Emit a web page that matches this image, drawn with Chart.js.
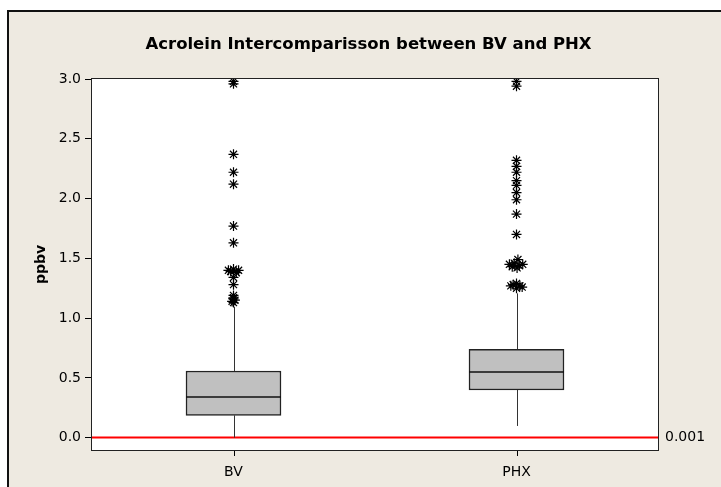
<!DOCTYPE html>
<html>
<head>
<meta charset="utf-8">
<script src="https://cdn.jsdelivr.net/npm/chart.js@4.4.0/dist/chart.umd.min.js"></script>
<style>
  html, body { margin: 0; padding: 0; background: #fff; }
  canvas { display: block; }
</style>
</head>
<body>
<canvas id="boxChart" width="721" height="487"></canvas>
<script>
const chartTitle = 'Acrolein Intercomparisson between BV and PHX';
const categories = ['BV', 'PHX'];
const q1 = [0.187, 0.399];
const medians = [0.338, 0.547];
const q3 = [0.558, 0.739];
const whiskerLow = [0.0, 0.098];
const whiskerHigh = [1.095, 1.207];
const yTicks = [0, 0.5, 1, 1.5, 2, 2.5, 3];
const refValue = 0.001;

// outliers, with a small sideways shift where stars pile up
const bvOutliers = [2.98, 2.96, 2.37, 2.22, 2.12, 1.77, 1.63, 1.41, 1.40, 1.40, 1.39, 1.38, 1.34, 1.28, 1.19, 1.17, 1.16, 1.15, 1.14, 1.13];
const bvShift    = [0, 0, 0, 0, 0, 0, 0, 0, -0.018, 0.018, -0.01, 0.01, 0, 0, 0, 0, 0, 0.005, -0.005, 0];
const phxOutliers = [2.98, 2.94, 2.32, 2.27, 2.22, 2.15, 2.11, 2.05, 1.99, 1.87, 1.70, 1.49, 1.46, 1.45, 1.45, 1.44, 1.43, 1.42, 1.29, 1.28, 1.27, 1.27, 1.26, 1.25];
const phxShift    = [0, 0, 0, 0, 0, 0, 0, 0, 0, 0, 0, 0.005, -0.008, -0.025, 0.022, 0.01, -0.015, 0.002, 0, -0.012, 0.012, -0.02, 0.02, 0];

const FONT = '"DejaVu Sans", Verdana, sans-serif';
Chart.defaults.font.family = FONT;
Chart.defaults.color = '#000';

const outlierPoints = [
  ...bvOutliers.map((v, i) => ({ x: 0 + bvShift[i], y: v })),
  ...phxOutliers.map((v, i) => ({ x: 1 + phxShift[i], y: v }))
];

// background frame, whiskers, medians, reference label and title
const minitabLook = {
  id: 'minitabLook',
  beforeDraw(chart) {
    const { ctx, chartArea: a } = chart;
    ctx.save();
    ctx.fillStyle = '#fff';
    ctx.fillRect(0, 0, chart.width, chart.height);
    ctx.fillStyle = '#eeeae1';
    ctx.fillRect(8, 11, chart.width, chart.height);
    ctx.strokeStyle = '#111';
    ctx.lineWidth = 2;
    ctx.beginPath();
    ctx.moveTo(8, chart.height);
    ctx.lineTo(8, 11);
    ctx.lineTo(chart.width, 11);
    ctx.stroke();
    ctx.fillStyle = '#fff';
    ctx.fillRect(a.left, a.top, a.width, a.height);
    ctx.restore();
  },
  afterDraw(chart) {
    const { ctx, chartArea: a } = chart;
    const xs = chart.scales.x, ys = chart.scales.y;
    const boxes = chart.getDatasetMeta(1).data;
    ctx.save();
    categories.forEach((c, i) => {
      const x = Math.round(xs.getPixelForValue(i)) + 0.5;
      ctx.lineWidth = 1;
      ctx.strokeStyle = '#333';
      ctx.beginPath();
      ctx.moveTo(x, ys.getPixelForValue(whiskerLow[i]));
      ctx.lineTo(x, ys.getPixelForValue(q1[i]));
      ctx.moveTo(x, ys.getPixelForValue(q3[i]));
      ctx.lineTo(x, ys.getPixelForValue(whiskerHigh[i]));
      ctx.stroke();
      // category tick mark under the axis
      ctx.strokeStyle = '#000';
      ctx.beginPath();
      ctx.moveTo(x, a.bottom);
      ctx.lineTo(x, a.bottom + 6);
      ctx.stroke();
      const el = boxes[i];
      const ym = Math.round(ys.getPixelForValue(medians[i]));
      ctx.strokeStyle = '#111';
      ctx.lineWidth = 1.5;
      ctx.beginPath();
      ctx.moveTo(el.x - el.width / 2, ym);
      ctx.lineTo(el.x + el.width / 2, ym);
      ctx.stroke();
    });
    // plot border
    ctx.strokeStyle = '#222';
    ctx.lineWidth = 1;
    ctx.strokeRect(a.left - 0.5, a.top - 0.5, a.width + 1, a.height + 1);
    // reference value label
    ctx.fillStyle = '#000';
    ctx.font = '14px ' + FONT;
    ctx.textAlign = 'left';
    ctx.textBaseline = 'middle';
    ctx.fillText(String(refValue), a.right + 7, ys.getPixelForValue(refValue));
    // title
    ctx.font = 'bold 16.5px ' + FONT;
    ctx.textAlign = 'center';
    ctx.fillText(chartTitle, 368.5, 45);
    ctx.restore();
  }
};

const ctx = document.getElementById('boxChart').getContext('2d');
new Chart(ctx, {
  type: 'bar',
  data: {
    datasets: [
      {
        type: 'line',
        data: [{ x: -0.5, y: refValue }, { x: 1.5, y: refValue }],
        borderColor: '#ff0000',
        borderWidth: 2,
        pointRadius: 0,
        order: 3
      },
      {
        type: 'bar',
        data: categories.map((c, i) => ({ x: i, y: [q1[i], q3[i]] })),
        backgroundColor: '#c0c0c0',
        borderColor: '#222',
        borderWidth: 1.5,
        borderSkipped: false,
        barThickness: 95,
        grouped: false,
        order: 2
      },
      {
        type: 'scatter',
        data: outlierPoints,
        pointStyle: 'star',
        pointRadius: 5,
        borderColor: '#000',
        backgroundColor: 'transparent',
        borderWidth: 1.2,
        order: 1
      }
    ]
  },
  options: {
    responsive: false,
    animation: false,
    layout: { padding: { top: 79, right: 63, bottom: 0, left: 0 } },
    plugins: {
      legend: { display: false },
      tooltip: { enabled: false },
      title: { display: false }
    },
    scales: {
      x: {
        type: 'linear',
        min: -0.5,
        max: 1.5,
        offset: false,
        afterBuildTicks: s => { s.ticks = categories.map((c, i) => ({ value: i })); },
        afterFit: s => { s.height = 37; },
        grid: { display: false },
        border: { display: false },
        ticks: { padding: 6, font: { size: 14 }, callback: v => categories[v] }
      },
      y: {
        type: 'linear',
        min: -0.103,
        max: 3.0,
        afterBuildTicks: s => { s.ticks = yTicks.map(v => ({ value: v })); },
        afterFit: s => { s.width = 92; },
        grid: { drawOnChartArea: false, drawTicks: true, tickLength: 7, color: '#000' },
        border: { display: false },
        ticks: { padding: 4, font: { size: 14 }, callback: v => v.toFixed(1) },
        title: { display: true, text: 'ppbv', font: { size: 14, weight: 'bold' }, padding: { top: 33 } }
      }
    }
  },
  plugins: [minitabLook]
});
</script>
</body>
</html>
